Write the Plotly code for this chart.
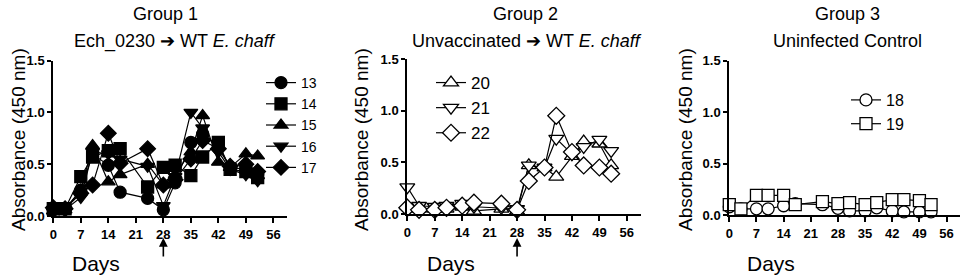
import plotly.graph_objects as go

W, H = 965, 280

days = [0, 3, 7, 10, 14, 17, 24, 28, 31, 35, 38, 42, 45, 49, 52]
x_ticks = [0, 7, 14, 21, 28, 35, 42, 49, 56]
y_ticks = [0.0, 0.5, 1.0, 1.5]

# Group 1: Ech_0230 -> WT E. chaff (filled symbols)
g1_names = ["13", "14", "15", "16", "17"]
g1_13 = [0.06, 0.07, 0.25, 0.60, 0.49, 0.23, 0.17, 0.06, 0.32, 0.71, 0.79, 0.68, 0.47, 0.45, 0.40]
g1_14 = [0.07, 0.07, 0.38, 0.57, 0.63, 0.65, 0.28, 0.47, 0.49, 0.39, 0.57, 0.71, 0.45, 0.43, 0.37]
g1_15 = [0.05, 0.06, 0.25, 0.68, 0.33, 0.40, 0.50, 0.30, 0.40, 0.62, 0.97, 0.52, 0.47, 0.60, 0.58]
g1_16 = [0.04, 0.06, 0.18, 0.62, 0.60, 0.55, 0.48, 0.10, 0.38, 1.00, 0.85, 0.62, 0.45, 0.40, 0.34]
g1_17 = [0.08, 0.07, 0.22, 0.30, 0.80, 0.51, 0.65, 0.30, 0.35, 0.55, 0.73, 0.65, 0.48, 0.50, 0.43]

# Group 2: Unvaccinated -> WT E. chaff (open symbols)
g2_names = ["20", "21", "22"]
g2_20 = [0.08, 0.05, 0.05, 0.05, 0.07, 0.03, 0.05, 0.03, 0.47, 0.45, 0.36, 0.56, 0.70, 0.68, 0.47]
g2_21 = [0.26, 0.08, 0.07, 0.08, 0.10, 0.07, 0.06, 0.05, 0.47, 0.45, 0.73, 0.58, 0.65, 0.72, 0.61]
g2_22 = [0.06, 0.04, 0.04, 0.06, 0.08, 0.11, 0.10, 0.04, 0.32, 0.45, 0.95, 0.60, 0.47, 0.45, 0.39]

# Group 3: Uninfected control (open symbols)
g3_names = ["18", "19"]
g3_18 = [0.08, 0.06, 0.06, 0.06, 0.09, 0.11, 0.10, 0.065, 0.04, 0.04, 0.07, 0.04, 0.03, 0.03, 0.03]
g3_19 = [0.10, 0.06, 0.19, 0.19, 0.19, 0.10, 0.13, 0.11, 0.12, 0.10, 0.12, 0.15, 0.15, 0.14, 0.10]

FONT = "Liberation Sans, Arial, sans-serif"

def px_x(p):
    return p / W

def px_y(p):
    return 1 - p / H

# panel geometry in pixels: (x of day 0, px per day, y of 0.0, y of 1.5)
panels = [
    dict(x0=53.3, ppd=3.93, y0=216.0, y15=60.7),
    dict(x0=407.3, ppd=3.92, y0=214.0, y15=59.0),
    dict(x0=729.3, ppd=3.88, y0=215.0, y15=60.7),
]
XMAX = 59.5

fig = go.Figure()

def add_series(idx, name, vals, symbol, filled, legend, size):
    ax = "" if idx == 0 else str(idx + 1)
    fig.add_trace(go.Scatter(
        x=days, y=vals, name=name, mode="lines+markers",
        xaxis="x" + ax, yaxis="y" + ax, legend=legend,
        line=dict(color="black", width=1.2),
        marker=dict(symbol=symbol, size=size,
                    color="black" if filled else "white",
                    line=dict(color="black", width=1.3)),
        cliponaxis=False,
    ))

g1_syms = ["circle", "square", "triangle-up", "triangle-down", "diamond"]
for n, v, s in zip(g1_names, [g1_13, g1_14, g1_15, g1_16, g1_17], g1_syms):
    add_series(0, n, v, s, True, "legend", 12)

for n, v, s in zip(g2_names, [g2_20, g2_21, g2_22], ["triangle-up", "triangle-down", "diamond"]):
    add_series(1, n, v, s, False, "legend2", 13)

for n, v, s in zip(g3_names, [g3_18, g3_19], ["circle", "square"]):
    add_series(2, n, v, s, False, "legend3", 12)

axis_common = dict(showline=True, linecolor="black", linewidth=2, ticks="outside",
                   tickcolor="black", tickwidth=2, showgrid=False, zeroline=False,
                   automargin=False,
                   tickfont=dict(family=FONT, size=13, color="black", weight="bold"))

layout = dict(
    template="none",
    width=W, height=H, margin=dict(l=0, r=0, t=0, b=0, autoexpand=False),
    paper_bgcolor="white", plot_bgcolor="white", showlegend=True,
)

for i, p in enumerate(panels):
    ax = "" if i == 0 else str(i + 1)
    xd = [px_x(p["x0"]), px_x(p["x0"] + XMAX * p["ppd"])]
    yd = [px_y(p["y0"]), px_y(p["y15"])]
    layout["xaxis" + ax] = dict(domain=xd, range=[0, XMAX], tickvals=x_ticks,
                                ticklen=5, anchor="y" + ax, **axis_common)
    layout["yaxis" + ax] = dict(domain=yd, range=[0, 1.5], tickvals=y_ticks,
                                tickformat=".1f", ticklen=4, anchor="x" + ax, **axis_common)

def leg(xp, yp, size):
    return dict(x=px_x(xp), y=px_y(yp), xanchor="left", yanchor="top",
                bgcolor="rgba(0,0,0,0)", tracegroupgap=0, borderwidth=0,
                font=dict(family=FONT, size=size, color="black"))

layout["legend"] = leg(261, 67, 14)
layout["legend2"] = leg(431, 65, 17)
layout["legend3"] = leg(846, 83, 16)

fig.update_layout(**layout)

def ann(text, xp, yp, size, **kw):
    fig.add_annotation(text=text, x=px_x(xp), y=px_y(yp), xref="paper", yref="paper",
                       showarrow=False, xanchor="center", yanchor="middle",
                       font=dict(family=FONT, size=size, color="black"), **kw)

titles = [("Group 1", 165), ("Group 2", 525), ("Group 3", 847)]
subs = [("Ech_0230 ➔ WT <i>E. chaff</i>", 175), ("Unvaccinated ➔ WT <i>E. chaff</i>", 527),
        ("Uninfected Control", 847)]
for t, xc in titles:
    ann(t, xc, 14, 18)
for t, xc in subs:
    ann(t, xc, 41, 18)

for xc in [18, 361, 685]:
    ann("Absorbance (450 nm)", xc, 140, 19, textangle=-90)

for xc in [96, 451, 771]:
    ann("Days", xc, 263, 21)

# arrows under day 28 (groups 1 and 2)
for i in [0, 1]:
    ax = "" if i == 0 else str(i + 1)
    fig.add_annotation(text="", x=28, y=px_y(238), xref="x" + ax, yref="paper",
                       showarrow=True, ax=0, ay=20, arrowhead=2, arrowsize=1.1,
                       arrowwidth=1.6, arrowcolor="black")

fig.write_html("out.html", config={"displayModeBar": False},
               post_script="document.body.style.margin='0';document.body.style.padding='0';")
